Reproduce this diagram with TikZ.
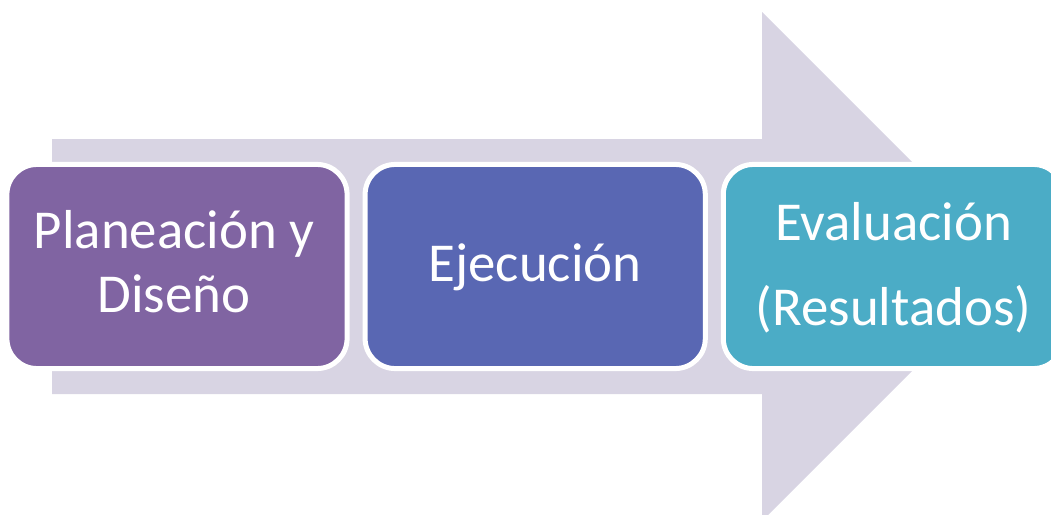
\documentclass[tikz,border=0pt]{standalone}
\usepackage{fontspec}
\setmainfont{Carlito}
\usepackage{tikz}
\usepackage{color}

\definecolor{arrowgray}{HTML}{D8D4E3}
\definecolor{planpurple}{HTML}{8064A2}
\definecolor{ejecblue}{HTML}{5967B3}
\definecolor{evalteal}{HTML}{4BACC6}

\begin{document}
\begin{tikzpicture}[x=0.01cm,y=-0.01cm]
            \tikzstyle{stage box}=[draw=white,line width=0.05cm,rounded corners=0.3cm,minimum width=3.4cm,minimum height=2.04cm,node distance=3.58cm]
            \tikzstyle{stage text}=[text=white,inner sep=0pt,align=center,anchor=base,font=\fontsize{15.6}{18.35}\selectfont]
            \useasboundingbox (0,0) rectangle (1051,515);

            \fill[arrowgray] (52,139) -- (762,139) -- (762,12) -- (1016.5,266.5) -- (762,521) -- (762,394) -- (52,394) -- cycle;

            \node[stage box,fill=planpurple] (P) at (177,266.5) {};
            \node[stage box,fill=ejecblue] (E) [right of=P] {};
            \node[stage box,fill=evalteal] (R) [right of=E] {};

            \node[stage text] (Ptext) at (174,312.7) {Planeación y\\Diseño};
            \node[stage text] (Etext) at (535,281.7) {Ejecución};
            \node[stage text] (Rtext) at (893.5,325) {Evaluación\\[5.8pt](Resultados)};
        \end{tikzpicture}
\end{document}
